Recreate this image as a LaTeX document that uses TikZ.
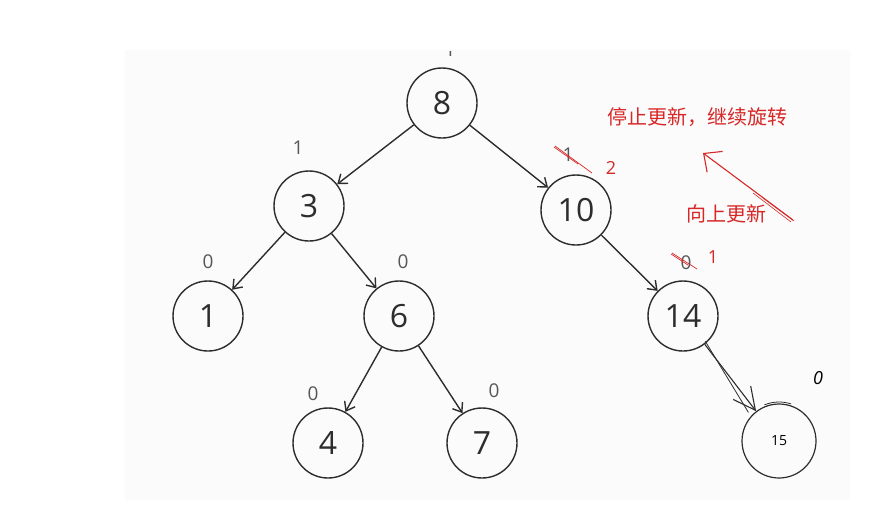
\documentclass[tikz,border=0pt]{standalone}
\usepackage{fontspec}
\setmainfont{Open Sans}
\newfontfamily\cjk{Noto Sans CJK SC}
\usetikzlibrary{arrows.meta}
\definecolor{ink}{RGB}{45,45,45}
\definecolor{redink}{RGB}{215,40,40}
\begin{document}
\begin{tikzpicture}[x=1pt,y=-1pt,
  tnode/.style={circle,draw=ink,line width=1.4pt,minimum size=70pt,inner sep=0pt,font=\fontsize{32}{34}\selectfont,text=ink},
  edge/.style={draw=ink,line width=1.4pt,-{Straight Barb[length=8pt,width=12pt,line width=1.4pt]}},
  bal/.style={font=\fontsize{19}{20}\selectfont,text=ink!80},
  strike/.style={draw=redink,line width=0.7pt},
  note/.style={font=\cjk\fontsize{20}{22}\selectfont,text=redink}]
\useasboundingbox (0,0) rectangle (893,531);
\fill[white] (0,0) rectangle (893,531);
\fill[black!1.5] (125,50) rectangle (850,500);
% nodes
\node[tnode] (n8) at (442,103) {8};
\node[tnode] (n3) at (309,206) {3};
\node[tnode] (n10) at (576,210) {10};
\node[tnode] (n1) at (208,316) {1};
\node[tnode] (n6) at (399,316) {6};
\node[tnode] (n14) at (683,316) {14};
\node[tnode] (n4) at (328,443) {4};
\node[tnode] (n7) at (482,443) {7};
\node[circle,draw=ink,line width=1.2pt,minimum size=74pt,inner sep=0pt,font=\fontsize{14}{15}\selectfont] (n15) at (779,441) {15};
\draw[ink,line width=0.8pt] ([shift={(112:39pt)}]n15.center) arc[start angle=112,end angle=72,radius=39pt];
% edges
\draw[edge] (n8) -- (n3);
\draw[edge] (n8) -- (n10);
\draw[edge] (n3) -- (n1);
\draw[edge] (n3) -- (n6);
\draw[edge] (n6) -- (n4);
\draw[edge] (n6) -- (n7);
\draw[edge] (n10) -- (n14);
\draw[ink,line width=1.1pt,-{Straight Barb[length=22pt,width=22pt,line width=1.1pt]}] (n14) -- (n15);
\draw[ink,line width=0.8pt] ([xshift=-3pt]n14.south east) -- ([xshift=-4pt,yshift=2pt]n15.north west);
% balance labels
\begin{scope}
\clip (420,51) rectangle (480,80);
\node[bal] (b8) at (450,50) {1};
\end{scope}
\node[bal] (b3) at (298,148) {1};
\node[bal] (b1) at (208,262) {0};
\node[bal] (b6) at (403,262) {0};
\node[bal] (b10) at (568,155) {1};
\node[bal] (b14) at (686,263) {0};
\node[bal] (b4) at (313,394) {0};
\node[bal] (b7) at (494,391) {0};
\node[font=\fontsize{18}{20}\selectfont\itshape,text=black] (b15) at (818,378) {0};
% red corrections
\draw[strike] ([xshift=-13pt,yshift=9pt]b10.center) -- ([xshift=24pt,yshift=-18pt]b10.center);
\draw[strike] ([xshift=-14pt,yshift=8pt]b10.center) -- ([xshift=10pt,yshift=-9pt]b10.center);
\node[font=\fontsize{18}{20}\selectfont,text=redink] (r10) at (611,168) {2};
\draw[strike] ([xshift=-14pt,yshift=10pt]b14.center) -- ([xshift=11pt,yshift=-6pt]b14.center);
\draw[strike] ([xshift=-15pt,yshift=9pt]b14.center) -- ([xshift=2pt,yshift=-2pt]b14.center);
\node[font=\fontsize{18}{20}\selectfont,text=redink] (r14) at (713,257) {1};
% notes
\node[note] (t1) at (697,117) {停止更新，继续旋转};
\node[note] (t2) at (726,214) {向上更新};
\coordinate (aS) at (793,220);
\coordinate (aE) at (703,153);
\draw[redink,line width=1.1pt,-{Straight Barb[length=14pt,width=26pt,line width=1.1pt]}] (aS) -- (aE);
\draw[redink,line width=0.6pt] ([xshift=-2pt,yshift=-2pt]aS) -- ([xshift=-40pt,yshift=27pt]aS);
\draw[redink,line width=0.6pt] ([xshift=1pt,yshift=-1pt]aS) -- ([xshift=-30pt,yshift=22pt]aS);
\end{tikzpicture}
\end{document}
